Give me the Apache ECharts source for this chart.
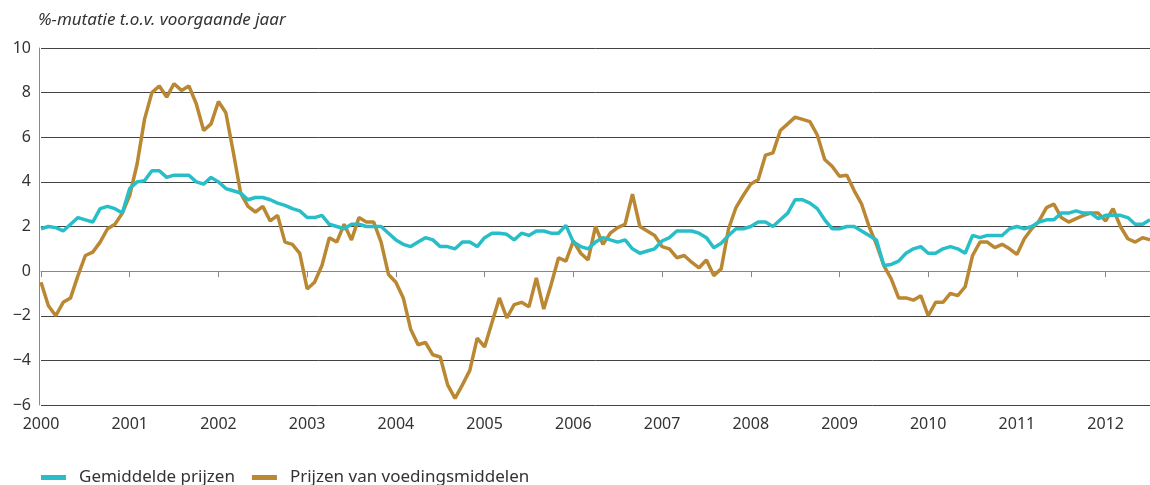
<!DOCTYPE html>
<html>
<head>
<meta charset="utf-8">
<script src="https://cdn.jsdelivr.net/npm/echarts@6/dist/echarts.min.js"></script>
<style>
  html, body { margin: 0; padding: 0; background: #fff; }
  #chart { width: 1150px; height: 485px; }
</style>
</head>
<body>
<div id="chart"></div>
<script>
// monthly, Jan 2000 .. Jul 2012
var months = [];
for (var y = 2000; y <= 2012; y++) {
  for (var m = 1; m <= 12; m++) {
    if (y === 2012 && m > 7) break;
    months.push(y + '-' + (m < 10 ? '0' + m : m));
  }
}

var gemiddeld = [
  1.9, 2.0, 1.95, 1.8, 2.1, 2.4, 2.3, 2.2, 2.8, 2.9, 2.8, 2.6,
  3.7, 4.0, 4.05, 4.5, 4.5, 4.2, 4.3, 4.3, 4.3, 4.0, 3.9, 4.2,
  4.0, 3.7, 3.6, 3.5, 3.2, 3.3, 3.3, 3.2, 3.05, 2.95, 2.8, 2.7,
  2.4, 2.4, 2.5, 2.1, 2.0, 1.9, 2.1, 2.1, 2.0, 2.0, 2.0, 1.7,
  1.4, 1.2, 1.1, 1.3, 1.5, 1.4, 1.1, 1.1, 1.0, 1.3, 1.3, 1.1,
  1.5, 1.7, 1.7, 1.65, 1.4, 1.7, 1.6, 1.8, 1.8, 1.7, 1.7, 2.05,
  1.3, 1.1, 1.0, 1.3, 1.5, 1.4, 1.3, 1.4, 1.0, 0.8, 0.9, 1.0,
  1.35, 1.5, 1.8, 1.8, 1.8, 1.7, 1.5, 1.05, 1.25, 1.6, 1.9, 1.9,
  2.0, 2.2, 2.2, 2.0, 2.3, 2.6, 3.2, 3.2, 3.05, 2.8, 2.3, 1.9,
  1.9, 2.0, 2.0, 1.8, 1.6, 1.4, 0.25, 0.3, 0.45, 0.8, 1.0, 1.1,
  0.8, 0.8, 1.0, 1.1, 1.0, 0.8, 1.6, 1.5, 1.6, 1.6, 1.6, 1.9,
  2.0, 1.9, 2.0, 2.2, 2.3, 2.3, 2.6, 2.6, 2.7, 2.6, 2.6, 2.35,
  2.5, 2.5, 2.5, 2.4, 2.1, 2.1, 2.3
];

var voeding = [
  -0.5, -1.55, -2.0, -1.4, -1.2, -0.2, 0.7, 0.85, 1.3, 1.9, 2.1, 2.6,
  3.4, 4.8, 6.8, 8.0, 8.3, 7.8, 8.4, 8.1, 8.3, 7.5, 6.3, 6.6,
  7.6, 7.1, 5.35, 3.5, 2.9, 2.65, 2.9, 2.25, 2.5, 1.3, 1.2, 0.8,
  -0.8, -0.5, 0.25, 1.5, 1.3, 2.1, 1.4, 2.4, 2.2, 2.2, 1.3, -0.15,
  -0.5, -1.2, -2.6, -3.3, -3.2, -3.75, -3.85, -5.1, -5.7, -5.1, -4.45, -3.0,
  -3.4, -2.3, -1.2, -2.1, -1.5, -1.4, -1.6, -0.3, -1.7, -0.6, 0.6, 0.45,
  1.35, 0.8, 0.5, 2.0, 1.2, 1.7, 1.95, 2.1, 3.45, 2.0, 1.8, 1.6,
  1.1, 1.0, 0.6, 0.7, 0.4, 0.15, 0.5, -0.2, 0.1, 1.9, 2.85, 3.4,
  3.9, 4.1, 5.2, 5.3, 6.3, 6.6, 6.9, 6.8, 6.7, 6.1, 5.0, 4.7,
  4.25, 4.3, 3.6, 3.0, 2.0, 1.2, 0.25, -0.35, -1.2, -1.2, -1.3, -1.1,
  -2.0, -1.4, -1.4, -1.0, -1.1, -0.7, 0.7, 1.3, 1.3, 1.05, 1.2, 1.0,
  0.75, 1.45, 1.9, 2.25, 2.85, 3.0, 2.4, 2.2, 2.35, 2.5, 2.6, 2.6,
  2.25, 2.8, 2.0, 1.45, 1.3, 1.5, 1.4
];

var seriesNames = ['Gemiddelde prijzen', 'Prijzen van voedingsmiddelen'];
var colors = ['#27BEC8', '#BA8732'];

var font = '"Noto Sans", "Open Sans", sans-serif';
var chart = echarts.init(document.getElementById('chart'), null, { renderer: 'canvas' });

function isYearStart(index) { return index % 12 === 0; }

chart.setOption({
  animation: false,
  backgroundColor: '#fff',
  textStyle: { fontFamily: font },
  title: {
    text: '%-mutatie t.o.v. voorgaande jaar',
    left: 33,
    top: 7,
    textStyle: { fontFamily: font, fontSize: 17, fontStyle: 'italic', fontWeight: 'normal', color: '#333' }
  },
  legend: {
    left: 36,
    top: 464,
    itemWidth: 25,
    itemHeight: 5,
    itemGap: 17,
    icon: 'rect',
    data: seriesNames,
    textStyle: { fontFamily: font, fontSize: 17, color: '#333', padding: [0, 0, 0, 8] }
  },
  grid: { left: 41, right: 0, top: 48, bottom: 80, containLabel: false },
  xAxis: {
    type: 'category',
    data: months,
    boundaryGap: false,
    axisLine: { lineStyle: { color: '#888', width: 1 } },
    axisTick: { interval: isYearStart, length: 6, lineStyle: { color: '#888' } },
    axisLabel: {
      interval: isYearStart,
      margin: 11,
      fontSize: 16,
      color: '#333',
      fontFamily: font,
      formatter: function (v) { return v.slice(0, 4); }
    },
    splitLine: { show: false }
  },
  yAxis: {
    type: 'value',
    min: -6,
    max: 10,
    interval: 2,
    offset: 2,
    axisLine: { show: true, lineStyle: { color: '#888', width: 1 } },
    axisTick: { show: false },
    axisLabel: {
      margin: 8,
      fontSize: 16,
      color: '#333',
      fontFamily: font,
      formatter: function (v) { return String(v).replace('-', '\u2212'); }
    },
    splitLine: { show: true, lineStyle: { color: '#444', width: 1 } }
  },
  series: [
    {
      name: seriesNames[0],
      type: 'line',
      data: gemiddeld,
      symbol: 'none',
      color: colors[0],
      lineStyle: { width: 3.5, color: colors[0] },
      z: 3
    },
    {
      name: seriesNames[1],
      type: 'line',
      data: voeding,
      symbol: 'none',
      color: colors[1],
      lineStyle: { width: 3.5, color: colors[1] },
      z: 2
    }
  ]
});
</script>
</body>
</html>
